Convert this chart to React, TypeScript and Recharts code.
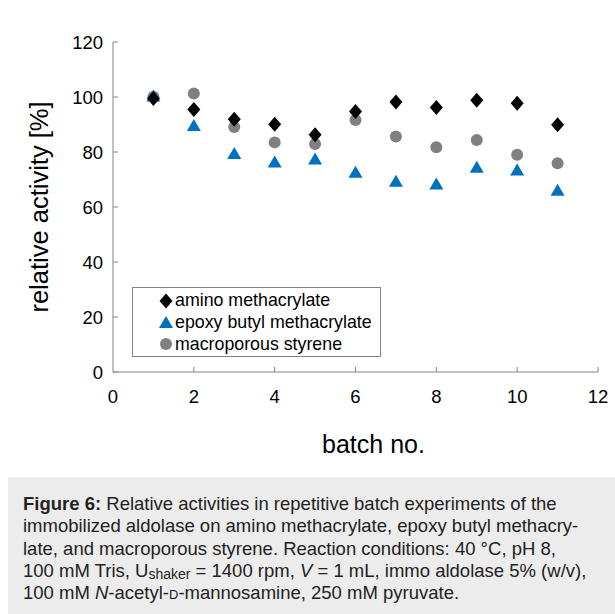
import React from 'react';
import { ScatterChart, Scatter, XAxis, YAxis, Legend } from 'recharts';

// batch numbers and relative activity [%] per carrier
const batches = [1, 2, 3, 4, 5, 6, 7, 8, 9, 10, 11];
const aminoMethacrylate = [99.5, 95.5, 91.9, 90.1, 86.3, 94.7, 98.2, 96.2, 98.8, 97.7, 89.9];
const epoxyButylMethacrylate = [100.2, 89.5, 79.3, 76.2, 77.3, 72.5, 69.2, 68.2, 74.3, 73.3, 65.9];
const macroporousStyrene = [100.1, 101.3, 89.1, 83.5, 82.9, 91.6, 85.6, 81.7, 84.4, 79.0, 75.9];

const xTicks = [0, 2, 4, 6, 8, 10, 12];
const yTicks = [0, 20, 40, 60, 80, 100, 120];

const toPoints = (values: number[]) => batches.map((b, i) => ({ batch: b, activity: values[i] }));

const FONT = '"Liberation Sans", Arial, sans-serif';
const AXIS = '#858585';
const BLUE = '#0070c0';
const GREY = '#808080';

const Diamond = ({ cx, cy }: any) => (
  <path d={`M${cx},${cy - 7.5} L${cx + 6.5},${cy} L${cx},${cy + 7.5} L${cx - 6.5},${cy} Z`} fill="#000" />
);
const Triangle = ({ cx, cy }: any) => (
  <path d={`M${cx},${cy - 7} L${cx + 7},${cy + 5} L${cx - 7},${cy + 5} Z`} fill={BLUE} />
);
const Dot = ({ cx, cy }: any) => <circle cx={cx} cy={cy} r={6} fill={GREY} />;

const XTick = ({ x, y, payload }: any) => (
  <g>
    {payload.value !== 0 && <line x1={x} y1={y} x2={x} y2={y - 5} stroke={AXIS} />}
    <text x={x} y={y + 31} textAnchor="middle" fontSize={18.5} fontFamily={FONT} fill="#000">
      {payload.value}
    </text>
  </g>
);

const YTick = ({ x, y, payload }: any) => (
  <g>
    <line x1={x} y1={y} x2={x + 5} y2={y} stroke={AXIS} />
    <text x={x - 10} y={y + 6.5} textAnchor="end" fontSize={18.5} fontFamily={FONT} fill="#000">
      {payload.value}
    </text>
  </g>
);

const legendItems = [
  { label: 'amino methacrylate', Icon: Diamond },
  { label: 'epoxy butyl methacrylate', Icon: Triangle },
  { label: 'macroporous styrene', Icon: Dot },
];

const LegendBox = () => (
  <div
    style={{
      width: 249,
      height: 70,
      boxSizing: 'border-box',
      border: `1px solid ${AXIS}`,
      background: '#fff',
      paddingTop: 2,
      fontFamily: FONT,
      fontSize: 17.8,
    }}
  >
    {legendItems.map(({ label, Icon }) => (
      <div key={label} style={{ display: 'flex', alignItems: 'center', height: 21.7, whiteSpace: 'nowrap' }}>
        <svg width={42} height={20} style={{ flex: 'none' }}>
          <Icon cx={33} cy={10} />
        </svg>
        <span style={{ color: '#000' }}>{label}</span>
      </div>
    ))}
  </div>
);

export default function App() {
  return (
    <div style={{ position: 'absolute', left: 0, top: 0, width: 615, height: 614, background: '#fff' }}>
      <ScatterChart width={615} height={470} margin={{ top: 42, right: 17, left: 53, bottom: 58 }}>
        <XAxis
          type="number"
          dataKey="batch"
          domain={[0, 12]}
          ticks={xTicks}
          height={40}
          stroke={AXIS}
          tickLine={false}
          tickSize={0}
          tickMargin={0}
          tick={<XTick />}
          label={{
            content: ({ viewBox }: any) => (
              <text
                x={viewBox.x + viewBox.width / 2 + 18}
                y={viewBox.y + 81}
                textAnchor="middle"
                fontSize={25}
                fontFamily={FONT}
                fill="#000"
              >
                batch no.
              </text>
            ),
          }}
        />
        <YAxis
          type="number"
          dataKey="activity"
          domain={[0, 120]}
          ticks={yTicks}
          width={60}
          stroke={AXIS}
          tickLine={false}
          tickSize={0}
          tickMargin={0}
          tick={<YTick />}
          label={{
            content: ({ viewBox }: any) => {
              const cx = 48;
              const cy = viewBox.y + viewBox.height / 2;
              return (
                <text
                  x={cx}
                  y={cy}
                  transform={`rotate(-90, ${cx}, ${cy})`}
                  textAnchor="middle"
                  fontSize={25.5}
                  fontFamily={FONT}
                  fill="#000"
                >
                  relative activity [%]
                </text>
              );
            },
          }}
        />
        <Legend
          layout="vertical"
          align="center"
          verticalAlign="middle"
          wrapperStyle={{ left: 132, top: 287, width: 249, height: 70 }}
          content={() => <LegendBox />}
        />
        <Scatter name="macroporous styrene" data={toPoints(macroporousStyrene)} shape={<Dot />} isAnimationActive={false} />
        <Scatter name="epoxy butyl methacrylate" data={toPoints(epoxyButylMethacrylate)} shape={<Triangle />} isAnimationActive={false} />
        <Scatter name="amino methacrylate" data={toPoints(aminoMethacrylate)} shape={<Diamond />} isAnimationActive={false} />
      </ScatterChart>
      <div
        style={{
          position: 'absolute',
          left: 8,
          top: 477,
          width: 607,
          height: 137,
          boxSizing: 'border-box',
          background: '#ececec',
          padding: '16px 0 0 15px',
          fontFamily: FONT,
          fontSize: 18.5,
          lineHeight: '22.3px',
          color: '#222',
          whiteSpace: 'nowrap',
        }}
      >
        <b>Figure 6:</b> Relative activities in repetitive batch experiments of the
        <br />
        immobilized aldolase on amino methacrylate, epoxy butyl methacry-
        <br />
        late, and macroporous styrene. Reaction conditions: 40 °C, pH 8,
        <br />
        100 mM Tris, U
        <sub style={{ fontSize: 14, lineHeight: 0, position: 'relative', top: 2, verticalAlign: 'baseline' }}>shaker</sub>{' '}
        = 1400 rpm, <i>V</i> = 1 mL, immo aldolase 5% (w/v),
        <br />
        100 mM <i>N</i>-acetyl-<span style={{ fontVariant: 'small-caps' }}>d</span>-mannosamine, 250 mM pyruvate.
      </div>
    </div>
  );
}
